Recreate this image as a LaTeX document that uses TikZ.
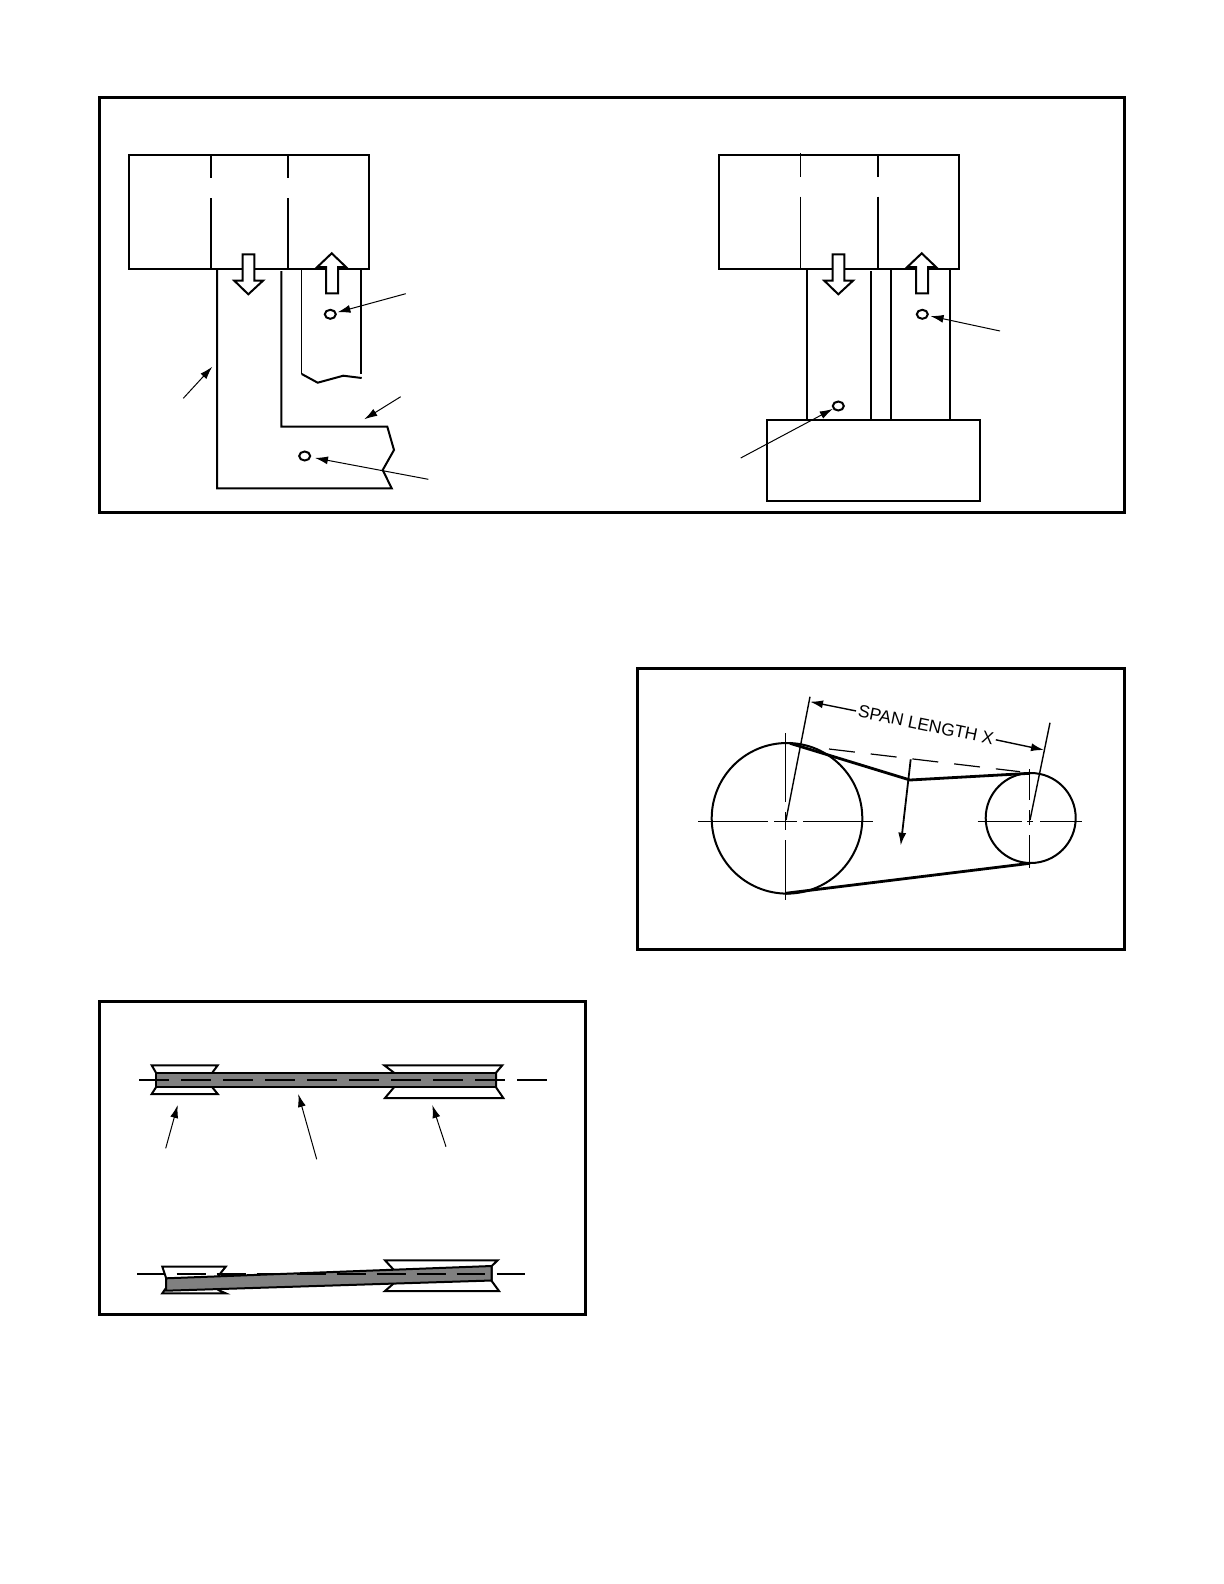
\documentclass[tikz,border=0pt]{standalone}
\usepackage{fontspec}
\setmainfont{Liberation Sans}
\usetikzlibrary{arrows.meta,shapes.geometric}

\begin{document}
\begin{tikzpicture}
	[x=.5pt,y=-.5pt,
	frame/.style={line width=1.5pt},
	part/.style={line width=1pt,line join=miter},
	thin part/.style={line width=.6pt},
	flow/.style={line width=1pt,fill=white,line join=miter},
	hole/.style={ellipse,draw,line width=1pt,minimum width=5.5pt,minimum height=4.5pt,inner sep=0pt},
	edge/.style={->,> = {Latex[length=6.5pt,width=4pt]},line width=.5pt},
	pulley/.style={circle,draw,line width=1pt,inner sep=0pt},
	belt/.style={line width=1.4pt},
	axis/.style={line width=.45pt},
	sheave/.style={line width=1pt,fill=white,line join=miter},
	strip/.style={fill=black!50,draw=black,line width=1pt},
	centerline/.style={line width=.9pt,dash pattern=on 15pt off 6pt}]
	\useasboundingbox (0,0) rectangle (1224,1584);

	\draw[frame] (99.3,97.3) rectangle (1124.7,512.7);
	\draw[frame] (637,668.3) rectangle (1124.7,949);
	\draw[frame] (99.3,1001.5) rectangle (585.3,1314.3);

	\draw[part] (129,155) rectangle (369.3,269.3);
	\draw[part] (210.7,155) -- (210.7,178.3);
	\draw[part] (210.7,198.3) -- (210.7,269.3);
	\draw[part] (288,155) -- (288,178.3);
	\draw[part] (288,198.3) -- (288,269.3);
	\draw[part] (217,269.3) -- (217,488.3) -- (391.7,488.3) -- (382.7,470) -- (394,450) -- (387.3,426.7) -- (281.3,426.7) -- (281.3,271);
	\draw[thin part] (301.7,269.3) -- (301.7,374);
	\draw[part] (361,269.3) -- (361,374) ;
	\draw[part] (301.7,374) -- (317.7,382.7) -- (343.3,375.7) -- (361.7,378);
	\draw[flow] (242.7,254.3) -- (254.3,254.3) -- (254.3,280.7) -- (263,280.7) -- (248.3,294.3) -- (234.3,280.7) -- (242.7,280.7) -- cycle;
	\draw[flow] (326,293.3) -- (338,293.3) -- (338,267) -- (346,267) -- (331.7,253.3) -- (317.3,267) -- (326,267) -- cycle;

	\node[hole] (holeA) at (330.3,314.3) {};
	\node[hole] (holeB) at (304.7,456) {};
	\coordinate (leadA) at (405.7,293.7);
	\coordinate (leadB) at (428.3,479.3);
	\coordinate (leadC) at (183.3,398.3);
	\coordinate (tipC) at (212.3,366.7);
	\coordinate (leadD) at (400.7,396.7);
	\coordinate (tipD) at (364.3,419.3);
	\draw[edge,shorten >=.5pt] (leadA) to (holeA);
	\draw[edge,shorten >=2pt] (leadB) to (holeB);
	\draw[edge] (leadC) to (tipC);
	\draw[edge] (leadD) to (tipD);

	\draw[part] (719,155) rectangle (959.3,269.3);
	\draw[thin part] (800.3,153) -- (800.3,176.7);
	\draw[thin part] (800.3,196.7) -- (800.3,269.3);
	\draw[part] (878,155) -- (878,176.7);
	\draw[part] (878,196.7) -- (878,269.3);
	\draw[part] (807,269.3) -- (807,420);
	\draw[part] (871,271) -- (871,420);
	\draw[part] (890.7,269.3) -- (890.7,420);
	\draw[part] (950,269.3) -- (950,420);
	\draw[part] (766.7,420) rectangle (980,501.3);
	\draw[flow] (832.7,254.3) -- (844.3,254.3) -- (844.3,280.7) -- (853,280.7) -- (838.3,294.3) -- (824.3,280.7) -- (832.7,280.7) -- cycle;
	\draw[flow] (916,293.3) -- (928,293.3) -- (928,267) -- (936,267) -- (921.7,253.3) -- (907.3,267) -- (916,267) -- cycle;

	\node[hole] (holeC) at (922.3,314.3) {};
	\node[hole] (holeD) at (838.3,406) {};
	\coordinate (leadE) at (1000,331);
	\coordinate (leadF) at (740.7,458);
	\draw[edge,shorten >=1pt] (leadE) to (holeC);
	\draw[edge] (leadF) to (holeD);

	\draw[axis] (698.3,821) -- (768.3,821);
	\draw[axis] (774.3,821) -- (796.7,821);
	\draw[axis] (803.3,821) -- (873.3,821);
	\draw[axis] (785.3,733.3) -- (785.3,802);
	\draw[axis] (785.3,812) -- (785.3,830);
	\draw[axis] (785.3,840) -- (785.3,900);
	\draw[axis] (977.7,821) -- (1021.7,821);
	\draw[axis] (1027,821) -- (1033,821);
	\draw[axis] (1040,821) -- (1082,821);
	\draw[axis] (1029.3,769) -- (1029.3,800);
	\draw[axis] (1029.3,810) -- (1029.3,825);
	\draw[axis] (1029.3,835) -- (1029.3,868);

	\node[pulley,minimum size=75.3pt] (bigwheel) at (787,818.3) {};
	\node[pulley,minimum size=45pt] (smallwheel) at (1030.7,818) {};
	\coordinate (beltA) at (790,743.3);
	\coordinate (beltB) at (910,780);
	\coordinate (beltC) at (1030,773.3);
	\coordinate (beltD) at (785.3,893.3);
	\coordinate (beltE) at (1030,863.3);
	\draw[belt] (beltA) -- (beltB) -- (beltC);
	\draw[belt] (beltD) -- (beltE);
	\draw[thin part,dash pattern=on 13pt off 8pt] (829,749) -- (1020,771.7);

	\coordinate (pushA) at (910.7,759.3);
	\coordinate (pushB) at (900.7,845.7);
	\draw[edge,line width=.9pt] (pushA) to (pushB);
	\draw[part,line width=.7pt] (786,820) -- (810,696.7);
	\draw[part,line width=.7pt] (1030,820) -- (1050,722.7);

	\node[rotate=-11.7,inner sep=1pt,font=\fontsize{8.7}{10}\selectfont] (spanlabel) at (926,725) {SPAN LENGTH X};
	\coordinate (spanA) at (810,701.7);
	\coordinate (spanB) at (1044,750);
	\draw[edge,line width=.7pt] (spanlabel) to (spanA);
	\draw[edge,line width=.7pt] (spanlabel) to (spanB);

	\draw[sheave] (151.7,1065.3) -- (217.7,1065.3) -- (212.3,1072.7) -- (212.3,1087.3) -- (217.7,1094) -- (151.7,1094) -- (156,1087.3) -- (156,1072.7) -- cycle;
	\draw[sheave] (384.3,1065.3) -- (502.3,1065.3) -- (496,1072.7) -- (496,1087.3) -- (503.3,1098) -- (385,1098) -- (394,1087.3) -- (394,1072.7) -- cycle;
	\draw[strip] (156,1072.7) rectangle (496,1087.3);
	\draw[centerline] (139.3,1080) -- (548.3,1080);
	\coordinate (leadG) at (165.7,1148.3);
	\coordinate (tipG) at (177.7,1105);
	\coordinate (leadH) at (316.7,1159.3);
	\coordinate (tipH) at (298.3,1094);
	\coordinate (leadI) at (446,1146.7);
	\coordinate (tipI) at (432.3,1105);
	\draw[edge] (leadG) to (tipG);
	\draw[edge] (leadH) to (tipH);
	\draw[edge] (leadI) to (tipI);

	\draw[sheave] (162.3,1266.7) -- (225.7,1266.7) -- (218.3,1276) -- (218.3,1290) -- (225.7,1293.3) -- (162.3,1293.3) -- (166,1288) -- (166,1277.7) -- cycle;
	\draw[sheave] (385,1260.3) -- (497.7,1260.3) -- (491.7,1266) -- (491.7,1281) -- (499,1291) -- (385,1291) -- (393,1284) -- (393,1269) -- cycle;
	\draw[strip] (166,1278.3) -- (491.7,1266) -- (491.7,1280.5) -- (166,1290.7) -- cycle;
	\draw[part] (137.3,1273.7) -- (164,1273.7);
	\draw[part,dash pattern=on 14.5pt off 5.5pt] (176.7,1273.7) -- (485,1273.7);
	\draw[part] (496.7,1273.7) -- (525,1273.7);
\end{tikzpicture}
\end{document}
